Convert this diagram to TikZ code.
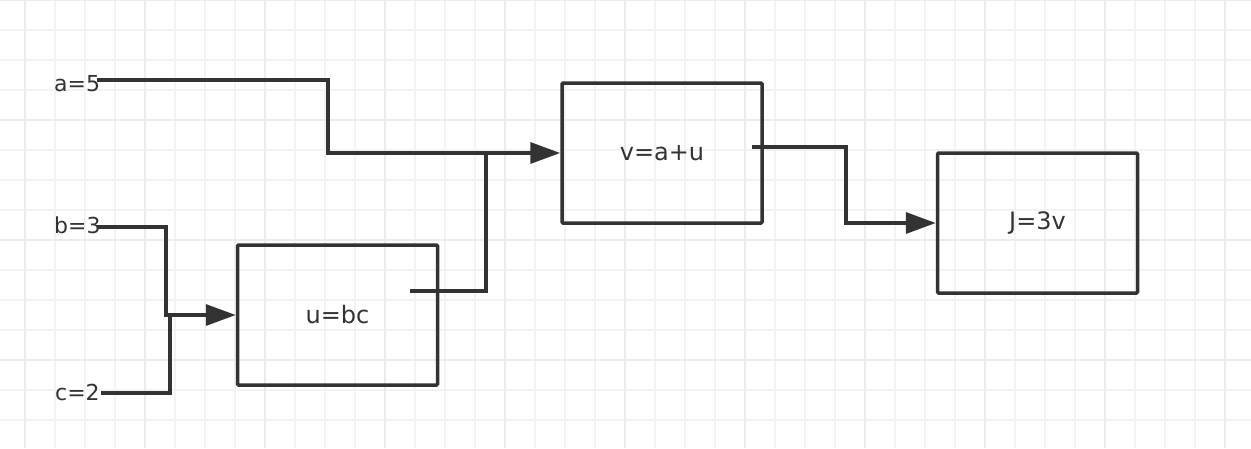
\documentclass[tikz,border=0pt]{standalone}
\usepackage{fontspec}
\setmainfont{DejaVu Sans}
\usetikzlibrary{arrows.meta,positioning,calc}
\definecolor{ink}{HTML}{333333}
\definecolor{gridminor}{HTML}{F3F3F3}
\definecolor{gridmajor}{HTML}{EBEBEB}

\begin{document}
\begin{tikzpicture}[x=1pt,y=-1pt,>={Triangle[length=30pt,width=21pt]},
  box/.style={draw=ink,line width=3.5pt,rounded corners=1pt,minimum width=200pt,
    minimum height=140pt,inner sep=0pt,text=ink,font=\fontsize{24}{28}\selectfont},
  var/.style={anchor=base west,inner sep=0pt,text=ink,font=\fontsize{22}{26}\selectfont},
  wire/.style={draw=ink,line width=3.5pt}]
\useasboundingbox (0,0) rectangle (1251,448);
% background grid
\fill[white] (0,0) rectangle (1251,448);
\foreach \x in {-5,25,...,1255} \draw[gridminor,line width=2pt] (\x,0) -- (\x,448);
\foreach \y in {0,30,...,450} \draw[gridminor,line width=2pt] (0,\y) -- (1251,\y);
\foreach \x in {25,145,...,1225} \draw[gridmajor,line width=2pt] (\x,0) -- (\x,448);
\foreach \y in {0,120,...,360} \draw[gridmajor,line width=2pt] (0,\y) -- (1251,\y);

% inputs
\node[var] (a) at (54,91) {a=5};
\node[var] (b) at (54,233) {b=3};
\node[var] (c) at (55,400) {c=2};

% operations
\node[box] (u) at (337.5,315) {u=bc};
\node[box] (v) at (662,153) {v=a+u};
\node[box] (J) at (1037.5,223) {J=3v};

% stubs and bends
\coordinate (a-out) at (97,80);
\coordinate (a-bend) at (328,153);
\coordinate (b-out) at (97,227);
\coordinate (b-bend) at (166,315);
\coordinate (c-out) at (101,393);
\coordinate (c-bend) at (170,315);
\coordinate (u-out) at (410,291);
\coordinate (u-bend) at (486,153);
\coordinate (v-out) at (752,147);
\coordinate (v-bend) at (846,223);

\draw[wire,->] (a-out) -| (a-bend) -- (v.west);
\draw[wire,->] (b-out) -| (b-bend) -- (u.west);
\draw[wire] (c-out) -| (c-bend);
\draw[wire] (u-out) -| (u-bend);
\draw[wire,->] (v-out) -| (v-bend) -- (J.west);
\end{tikzpicture}
\end{document}
